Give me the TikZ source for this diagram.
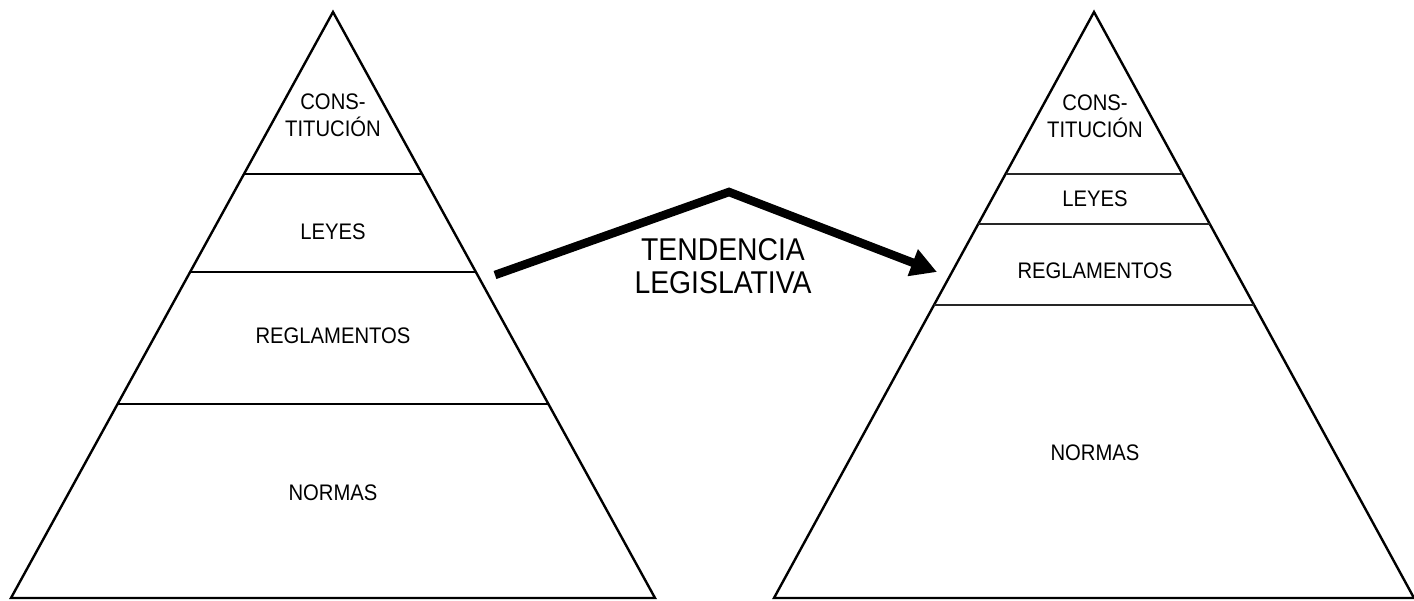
\documentclass[tikz,border=0pt]{standalone}
\usepackage{fontspec}
\setmainfont{Liberation Sans}[FakeStretch=0.9]
\usepackage{tikz}
\usetikzlibrary{calc,arrows.meta}
\def\basey{598}

\begin{document}
\begin{tikzpicture}[x=1pt,y=-1pt,line join=miter]
                \tikzstyle{side}=[draw=black,line width=2.4pt]
                \tikzstyle{level}=[draw=black,line width=2.4pt]
                \tikzstyle{thin level}=[draw=black!85,line width=1.6pt]
                \tikzstyle{tier}=[font=\fontsize{22.5}{27}\selectfont,align=center,inner sep=0pt]
                \tikzstyle{trend}=[draw=black,line width=8.5pt,-{Triangle[length=26pt,width=27pt]}]
                \tikzstyle{annot}=[font=\fontsize{31.5}{33}\selectfont,align=center,inner sep=0pt]

                \useasboundingbox (0,0) rectangle (1414,601);

                % Draw the two pyramids
                \coordinate (L-top) at (333,12);
                \coordinate (L-left) at (11,\basey);
                \coordinate (L-right) at (655,\basey);
                \coordinate (R-top) at (1094,12);
                \coordinate (R-left) at (774,\basey);
                \coordinate (R-right) at (1414,\basey);
                \foreach \name in {L,R}
                    \draw[side] (\name-left) -- (\name-top) -- (\name-right) -- cycle;

                % Cut the left pyramid into its levels
                \foreach \t in {0.2765,0.4437,0.669}
                    \draw[level] ($(L-top)!\t!(L-left)$) -- ($(L-top)!\t!(L-right)$);

                % Cut the right pyramid into its levels
                \foreach \t in {0.2765,0.3618,0.5}
                    \draw[thin level] ($(R-top)!\t!(R-left)$) -- ($(R-top)!\t!(R-right)$);

                % Label the levels
                \node[tier] (L-const) at (333,115) {CONS-\\TITUCIÓN};
                \node[tier] (L-laws) at (333,232) {LEYES};
                \node[tier] (L-regs) at (333,336) {REGLAMENTOS};
                \node[tier] (L-norms) at (333,493) {NORMAS};
                \node[tier] (R-const) at (1095,116) {CONS-\\TITUCIÓN};
                \node[tier] (R-laws) at (1095,199) {LEYES};
                \node[tier] (R-regs) at (1095,271) {REGLAMENTOS};
                \node[tier] (R-norms) at (1095,453) {NORMAS};

                % The trend arrow between the pyramids
                \coordinate (from) at (495,275);
                \coordinate (bend) at (729,192);
                \coordinate (to) at (937,272);
                \draw[trend] (from) -- (bend) -- (to);
                \node[annot] (trend) at (723,266) {TENDENCIA\\LEGISLATIVA};
\end{tikzpicture}
\end{document}
